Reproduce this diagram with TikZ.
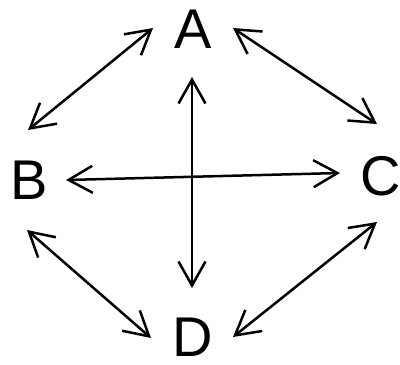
\documentclass[tikz,border=0pt]{standalone}
\usepackage{fontspec}
\setmainfont{Liberation Sans}
\usetikzlibrary{arrows.meta}
\begin{document}
\begin{tikzpicture}[x=1pt,y=-1pt,
  lbl/.style={inner sep=0pt,font=\fontsize{56}{60}\selectfont},
  conn/.style={line width=2.5pt,{Straight Barb[length=24pt,width=27pt,line width=2.5pt]}-{Straight Barb[length=24pt,width=27pt,line width=2.5pt]}}]
\useasboundingbox (0,0) rectangle (400,365);
\node[lbl] (A) at (193,29) {A};
\node[lbl] (B) at (29,180) {B};
\node[lbl] (C) at (381,176) {C};
\node[lbl] (D) at (193,337) {D};
\coordinate (ab1) at (28,130); \coordinate (ab2) at (153,28);
\coordinate (ac1) at (233,28); \coordinate (ac2) at (377,124);
\coordinate (bc1) at (66,180); \coordinate (bc2) at (340,173);
\coordinate (ad1) at (192,77); \coordinate (ad2) at (192,288);
\coordinate (bd1) at (27,230); \coordinate (bd2) at (151,338);
\coordinate (cd1) at (377,222); \coordinate (cd2) at (233,337);
\draw[conn] (ab1) -- (ab2);
\draw[conn] (ac1) -- (ac2);
\draw[conn] (bc1) -- (bc2);
\draw[conn] (ad1) -- (ad2);
\draw[conn] (bd1) -- (bd2);
\draw[conn] (cd1) -- (cd2);
\end{tikzpicture}
\end{document}
